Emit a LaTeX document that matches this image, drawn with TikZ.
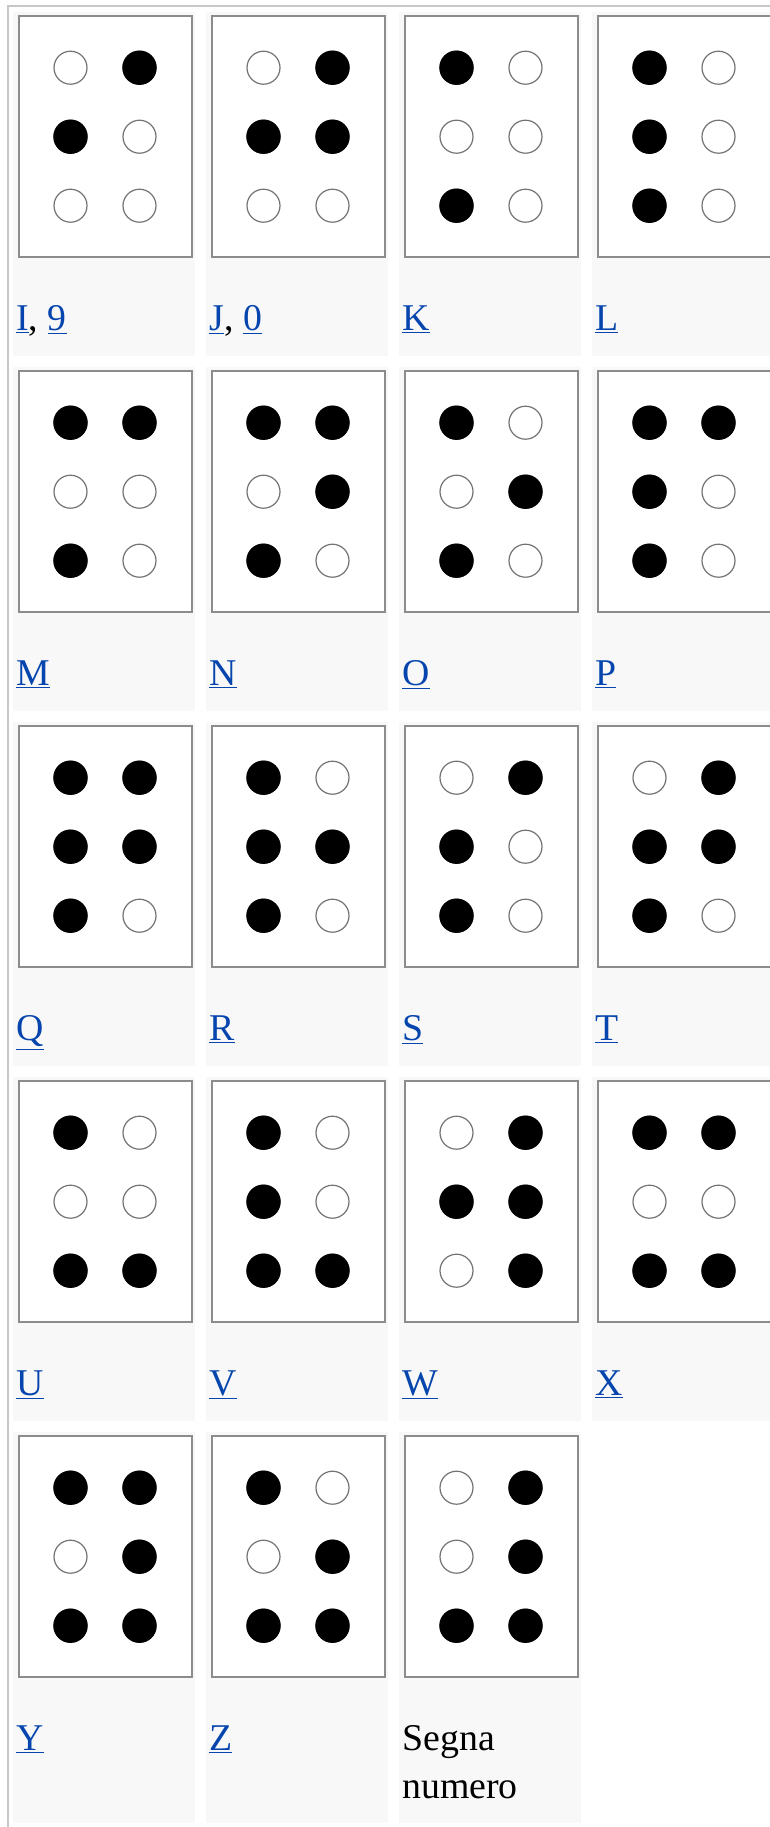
\documentclass[tikz,border=0pt]{standalone}
\usepackage{fontspec}
\setmainfont{Liberation Serif}
\usepackage{tikz}

\definecolor{linkblue}{HTML}{0645AD}
\definecolor{cellgray}{HTML}{F8F8F8}
\newcommand{\lnk}[1]{\textcolor{linkblue}{\underline{#1}}}

\begin{document}
\begin{tikzpicture}[
    x=0.5pt,
    y=-0.5pt,
    tableline/.style={draw=black!22, line width=1pt},
    cellbg/.style={fill=cellgray},
    imgbox/.style={draw=black!45, fill=white, line width=0.8pt},
    dotempty/.style={draw=black!55, fill=white, line width=0.6pt},
    dotfull/.style={fill=black},
    label/.style={font={\fontsize{18.9}{24}\selectfont}, anchor=base west, inner sep=0pt}
  ]
    \useasboundingbox (0,0) rectangle (770,1827);
    \def\pitchx{193}
    \def\pitchy{355}
    \newcommand{\braillecell}[5]{%
      \begin{scope}[shift={(13+\pitchx*#1,12+\pitchy*#2)}]
        \fill[cellbg] (0,0) rectangle (182,#3);
        \draw[imgbox] (6,4) rectangle (179,245);
        \foreach \n in {1,...,6} {
          \pgfmathtruncatemacro{\cx}{(\n-1)/3}
          \pgfmathtruncatemacro{\cy}{mod(\n-1,3)}
          \draw[dotempty] (57.5+69*\cx,55.7+69*\cy) circle[radius=8.25pt];
        }
        \foreach \n in {#4} {
          \pgfmathtruncatemacro{\cx}{(\n-1)/3}
          \pgfmathtruncatemacro{\cy}{mod(\n-1,3)}
          \fill[dotfull] (57.5+69*\cx,55.7+69*\cy) circle[radius=8.6pt];
        }
        \node[label] (lab-#1-#2) at (3,318) {#5};
      \end{scope}
    }

    \draw[tableline] (8,1827) -- (8,6) -- (770,6);

    \braillecell{0}{0}{344}{2,4}{\lnk{I}, \lnk{9}}
    \braillecell{1}{0}{344}{2,4,5}{\lnk{J}, \lnk{0}}
    \braillecell{2}{0}{344}{1,3}{\lnk{K}}
    \braillecell{3}{0}{344}{1,2,3}{\lnk{L}}

    \braillecell{0}{1}{344}{1,3,4}{\lnk{M}}
    \braillecell{1}{1}{344}{1,3,4,5}{\lnk{N}}
    \braillecell{2}{1}{344}{1,3,5}{\lnk{O}}
    \braillecell{3}{1}{344}{1,2,3,4}{\lnk{P}}

    \braillecell{0}{2}{344}{1,2,3,4,5}{\lnk{Q}}
    \braillecell{1}{2}{344}{1,2,3,5}{\lnk{R}}
    \braillecell{2}{2}{344}{2,3,4}{\lnk{S}}
    \braillecell{3}{2}{344}{2,3,4,5}{\lnk{T}}

    \braillecell{0}{3}{344}{1,3,6}{\lnk{U}}
    \braillecell{1}{3}{344}{1,2,3,6}{\lnk{V}}
    \braillecell{2}{3}{344}{2,4,5,6}{\lnk{W}}
    \braillecell{3}{3}{344}{1,3,4,6}{\lnk{X}}

    \braillecell{0}{4}{391}{1,3,4,5,6}{\lnk{Y}}
    \braillecell{1}{4}{391}{1,3,5,6}{\lnk{Z}}
    \braillecell{2}{4}{391}{3,4,5,6}{\vtop{\hbox{Segna}\hbox{numero}}}
  \end{tikzpicture}
\end{document}
